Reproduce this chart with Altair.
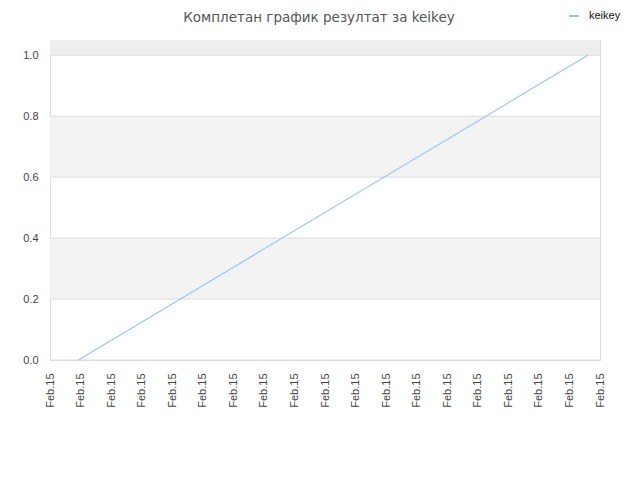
import altair as alt
import pandas as pd

title_text = "Комплетан график резултат за keikey"
series_name = "keikey"
x_vals = [0.93, 17.6]
y_vals = [0.0, 1.0]
x_ticks = list(range(0, 19))
tick_label = "Feb.15"
y_ticks = [0.0, 0.2, 0.4, 0.6, 0.8, 1.0]
band_lo = [0.2, 0.6, 1.0]
band_hi = [0.4, 0.8, 1.05]
band_fill = ["#f3f3f3", "#f3f3f3", "#eeeeee"]

line_df = pd.DataFrame({"x": x_vals, "y": y_vals, "series": [series_name] * len(x_vals)})
band_df = pd.DataFrame({"lo": band_lo, "hi": band_hi, "fill": band_fill})
grid_df = pd.DataFrame({"y": y_ticks})

xscale = alt.Scale(domain=[0, 18], nice=False)
yscale = alt.Scale(domain=[0, 1.05], nice=False, zero=False)

yaxis = alt.Axis(values=y_ticks, format=".1f", ticks=False, domain=False, grid=False,
                 labelFontSize=11, labelColor="#444444", labelPadding=12,
                 labelFont="Liberation Sans")

bands = alt.Chart(band_df).mark_rect().encode(
    x=alt.value(0), x2=alt.value(550),
    y=alt.Y("lo:Q", scale=yscale, title=None, axis=yaxis),
    y2="hi:Q",
    fill=alt.Fill("fill:N", scale=None, legend=None),
)

grid = alt.Chart(grid_df).mark_rule(color="#dddddd", strokeWidth=1).encode(
    x=alt.value(0), x2=alt.value(550),
    y=alt.Y("y:Q", scale=yscale, title=None, axis=yaxis),
)

line = alt.Chart(line_df).mark_line(strokeWidth=1.1).encode(
    x=alt.X("x:Q", scale=xscale, title=None,
            axis=alt.Axis(values=x_ticks, labelExpr=f"'{tick_label}'", labelAngle=270,
                          labelAlign="right", labelBaseline="middle", labelPadding=13,
                          ticks=False, domain=False, grid=False, labelFontSize=11,
                          labelColor="#444444", labelFont="Liberation Sans", labelOverlap=False)),
    y=alt.Y("y:Q", scale=yscale, title=None, axis=yaxis),
    color=alt.Color("series:N", scale=alt.Scale(domain=[series_name], range=["#92c5f7"]),
                    legend=alt.Legend(title=None, orient="none", legendX=518, legendY=-30,
                                      symbolType="stroke", symbolSize=100, symbolStrokeWidth=2,
                                      labelOffset=9, labelFontSize=11, labelColor="#111111",
                                      labelFont="Liberation Sans")),
)

chart = alt.layer(bands, grid, line).properties(
    width=550, height=320,
    title=alt.TitleParams(title_text, fontSize=13.5, fontWeight="normal", color="#555555",
                          font="DejaVu Sans", anchor="middle", dx=-6, offset=-14),
    autosize=alt.AutoSizeParams(type="none"),
    padding={"left": 42, "top": 32, "right": 32, "bottom": 112},
).configure_view(stroke="#dddddd", strokeWidth=1)

chart.save("out.html", embed_options={"renderer": "svg", "actions": False})
